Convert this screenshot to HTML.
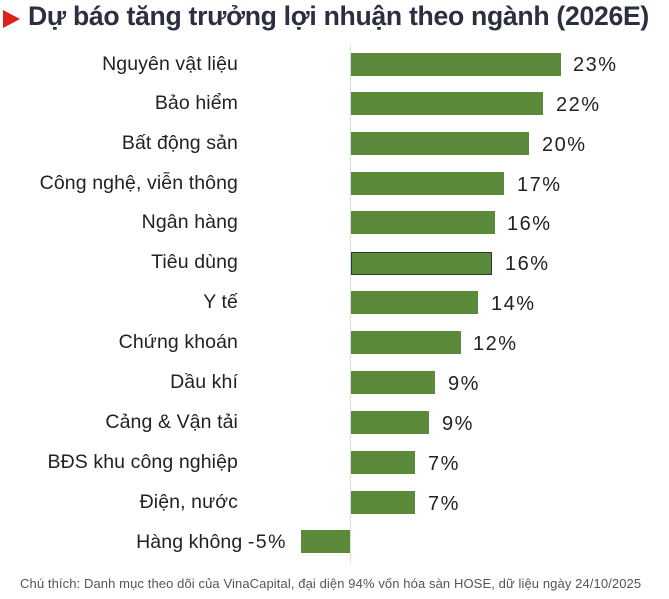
<!DOCTYPE html>
<html><head><meta charset="utf-8"><style>
body{margin:0;width:669px;height:599px;background:#fff;position:relative;overflow:hidden;font-family:"Liberation Sans",sans-serif}
.t{position:absolute;left:28px;top:1px;font-size:27px;font-weight:bold;color:#2b2f3f;white-space:nowrap;transform:scaleX(0.985);transform-origin:left top;letter-spacing:-0.3px}
.tri{position:absolute;left:3px;top:10px;width:0;height:0;border-top:9px solid transparent;border-bottom:9px solid transparent;border-left:17px solid #e0201b}
.ax{position:absolute;left:350px;top:45px;width:1px;height:518px;background:#d8dde3}
.l{position:absolute;right:431px;font-size:19.5px;letter-spacing:0.1px;color:#222;white-space:nowrap;line-height:22px}
.b{position:absolute;height:23px;background:#5b8a3a}
.v{position:absolute;font-size:20px;letter-spacing:1.5px;color:#222;line-height:22px}
.n{position:absolute;left:20px;top:576px;font-size:13px;color:#555;white-space:nowrap;letter-spacing:0.1px}
</style></head><body>
<div class="tri"></div>
<div class="t">Dự báo tăng trưởng lợi nhuận theo ngành (2026E)</div>
<div class="ax"></div>
<div class="l" style="top:53px">Nguyên vật liệu</div><div class="b" style="left:351px;width:210px;top:53px"></div><div class="v" style="left:573px;top:54px">23%</div>
<div class="l" style="top:92px">Bảo hiểm</div><div class="b" style="left:351px;width:192px;top:92px"></div><div class="v" style="left:556px;top:94px">22%</div>
<div class="l" style="top:132px">Bất động sản</div><div class="b" style="left:351px;width:178px;top:132px"></div><div class="v" style="left:542px;top:134px">20%</div>
<div class="l" style="top:172px">Công nghệ, viễn thông</div><div class="b" style="left:351px;width:153px;top:172px"></div><div class="v" style="left:517px;top:174px">17%</div>
<div class="l" style="top:211px">Ngân hàng</div><div class="b" style="left:351px;width:144px;top:211px"></div><div class="v" style="left:507px;top:213px">16%</div>
<div class="l" style="top:251px">Tiêu dùng</div><div class="b" style="left:351px;width:139px;top:252px;height:21px;border:1px solid #2b3a2b"></div><div class="v" style="left:505px;top:253px">16%</div>
<div class="l" style="top:291px">Y tế</div><div class="b" style="left:351px;width:127px;top:291px"></div><div class="v" style="left:491px;top:293px">14%</div>
<div class="l" style="top:331px">Chứng khoán</div><div class="b" style="left:351px;width:110px;top:331px"></div><div class="v" style="left:473px;top:333px">12%</div>
<div class="l" style="top:371px">Dầu khí</div><div class="b" style="left:351px;width:84px;top:371px"></div><div class="v" style="left:448px;top:373px">9%</div>
<div class="l" style="top:411px">Cảng &amp; Vận tải</div><div class="b" style="left:351px;width:78px;top:411px"></div><div class="v" style="left:442px;top:413px">9%</div>
<div class="l" style="top:451px">BĐS khu công nghiệp</div><div class="b" style="left:351px;width:64px;top:451px"></div><div class="v" style="left:428px;top:453px">7%</div>
<div class="l" style="top:491px">Điện, nước</div><div class="b" style="left:351px;width:64px;top:491px"></div><div class="v" style="left:428px;top:493px">7%</div>
<div class="l" style="top:531px;right:382px">Hàng không <span style="letter-spacing:1.5px">-5%</span></div><div class="b" style="left:301px;width:49px;top:530px"></div>
<div class="n">Chú thích: Danh mục theo dõi của VinaCapital, đại diện 94% vốn hóa sàn HOSE, dữ liệu ngày 24/10/2025</div>
</body></html>
